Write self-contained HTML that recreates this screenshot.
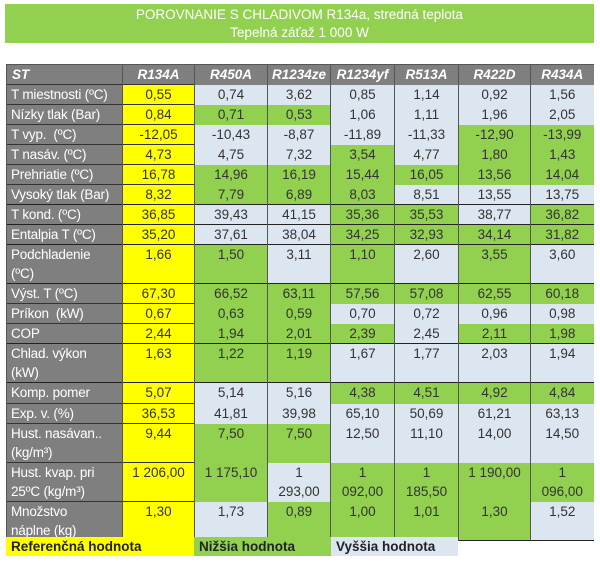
<!DOCTYPE html>
<html><head><meta charset="utf-8"><style>
body{margin:0;width:600px;height:566px;background:#fff;font-family:"Liberation Sans",sans-serif;position:relative;overflow:hidden}
.title{position:absolute;left:5px;top:4px;width:589px;height:39px;background:#92d050;color:#fff;text-align:center;font-size:13.5px;line-height:18px;padding-top:2px;box-sizing:border-box}
table{position:absolute;left:6px;top:64px;border-collapse:collapse;table-layout:fixed;font-size:13.5px;color:#333}
td{padding:0;vertical-align:top;text-align:center;line-height:19px;border-left:1px solid #555;overflow:hidden;white-space:nowrap}
td.h{background:#7f7f7f;color:#fff;text-align:left;padding-left:4px;border-top:1px solid #333;font-size:13.5px;letter-spacing:-0.2px}
td.y{background:#ffff00;border-top:1px solid #333}
td.g{background:#92d050}
td.b{background:#dce6f1}
tr.hd td{background:#7f7f7f;color:#fff;font-weight:bold;font-style:italic;border-top:1px solid #555}
tr.hd td:first-child{text-align:left;padding-left:5px}
tr.L td{border-top:1px solid #222}
.leg{position:absolute;top:537px;height:19px;font-size:13.5px;font-weight:bold;color:#222;line-height:19px;padding-left:5px;box-sizing:border-box}
</style></head><body>
<div class="title">POROVNANIE S CHLADIVOM R134a, stredná teplota<br>Tepelná záťaž 1 000 W</div>
<table>
<colgroup><col style="width:116px"><col style="width:72px"><col style="width:73px"><col style="width:63px"><col style="width:64px"><col style="width:64px"><col style="width:72px"><col style="width:63px"></colgroup>
<tr class="hd" style="height:19px"><td>ST</td><td>R134A</td><td>R450A</td><td>R1234ze</td><td>R1234yf</td><td>R513A</td><td>R422D</td><td>R434A</td></tr>
<tr style="height:20px"><td class="h">T miestnosti (ºC)</td><td class="y">0,55</td><td class="b">0,74</td><td class="b">3,62</td><td class="b">0,85</td><td class="b">1,14</td><td class="b">0,92</td><td class="b">1,56</td></tr>
<tr style="height:20px"><td class="h">Nízky tlak (Bar)</td><td class="y">0,84</td><td class="g">0,71</td><td class="g">0,53</td><td class="b">1,06</td><td class="b">1,11</td><td class="b">1,96</td><td class="b">2,05</td></tr>
<tr style="height:20px"><td class="h">T vyp.&nbsp; (ºC)</td><td class="y">-12,05</td><td class="b">-10,43</td><td class="b">-8,87</td><td class="b">-11,89</td><td class="b">-11,33</td><td class="g">-12,90</td><td class="g">-13,99</td></tr>
<tr style="height:20px"><td class="h">T nasáv. (ºC)</td><td class="y">4,73</td><td class="b">4,75</td><td class="b">7,32</td><td class="g">3,54</td><td class="b">4,77</td><td class="g">1,80</td><td class="g">1,43</td></tr>
<tr style="height:20px"><td class="h">Prehriatie (ºC)</td><td class="y">16,78</td><td class="g">14,96</td><td class="g">16,19</td><td class="g">15,44</td><td class="g">16,05</td><td class="g">13,56</td><td class="g">14,04</td></tr>
<tr style="height:20px"><td class="h">Vysoký tlak (Bar)</td><td class="y">8,32</td><td class="g">7,79</td><td class="g">6,89</td><td class="g">8,03</td><td class="b">8,51</td><td class="b">13,55</td><td class="b">13,75</td></tr>
<tr class="L" style="height:20px"><td class="h">T kond. (ºC)</td><td class="y">36,85</td><td class="b">39,43</td><td class="b">41,15</td><td class="g">35,36</td><td class="g">35,53</td><td class="b">38,77</td><td class="g">36,82</td></tr>
<tr class="L" style="height:20px"><td class="h">Entalpia T (ºC)</td><td class="y">35,20</td><td class="b">37,61</td><td class="b">38,04</td><td class="g">34,25</td><td class="g">32,93</td><td class="g">34,14</td><td class="g">31,82</td></tr>
<tr class="L" style="height:39px"><td class="h">Podchladenie<br>(ºC)</td><td class="y">1,66</td><td class="g">1,50</td><td class="b">3,11</td><td class="g">1,10</td><td class="b">2,60</td><td class="g">3,55</td><td class="b">3,60</td></tr>
<tr class="L" style="height:20px"><td class="h">Výst. T (ºC)</td><td class="y">67,30</td><td class="g">66,52</td><td class="g">63,11</td><td class="g">57,56</td><td class="g">57,08</td><td class="g">62,55</td><td class="g">60,18</td></tr>
<tr style="height:20px"><td class="h">Príkon&nbsp; (kW)</td><td class="y">0,67</td><td class="g">0,63</td><td class="g">0,59</td><td class="b">0,70</td><td class="b">0,72</td><td class="b">0,96</td><td class="b">0,98</td></tr>
<tr style="height:20px"><td class="h">COP</td><td class="y">2,44</td><td class="g">1,94</td><td class="g">2,01</td><td class="g">2,39</td><td class="b">2,45</td><td class="g">2,11</td><td class="g">1,98</td></tr>
<tr class="L" style="height:38px"><td class="h">Chlad. výkon<br>(kW)</td><td class="y">1,63</td><td class="g">1,22</td><td class="g">1,19</td><td class="b">1,67</td><td class="b">1,77</td><td class="b">2,03</td><td class="b">1,94</td></tr>
<tr class="L" style="height:21px"><td class="h">Komp. pomer</td><td class="y">5,07</td><td class="b">5,14</td><td class="b">5,16</td><td class="g">4,38</td><td class="g">4,51</td><td class="g">4,92</td><td class="g">4,84</td></tr>
<tr style="height:19px"><td class="h">Exp. v. (%)</td><td class="y">36,53</td><td class="b">41,81</td><td class="b">39,98</td><td class="b">65,10</td><td class="b">50,69</td><td class="b">61,21</td><td class="b">63,13</td></tr>
<tr style="height:39px"><td class="h">Hust. nasávan..<br>(kg/m³)</td><td class="y">9,44</td><td class="g">7,50</td><td class="g">7,50</td><td class="b">12,50</td><td class="b">11,10</td><td class="b">14,00</td><td class="b">14,50</td></tr>
<tr style="height:39px"><td class="h">Hust. kvap. pri<br>25ºC (kg/m³)</td><td class="y">1 206,00</td><td class="g">1 175,10</td><td class="b">1<br>293,00</td><td class="g">1<br>092,00</td><td class="g">1<br>185,50</td><td class="g">1 190,00</td><td class="g">1<br>096,00</td></tr>
<tr style="height:39px;border-bottom:1px solid #222"><td class="h">Množstvo<br>náplne (kg)</td><td class="y">1,30</td><td class="b">1,73</td><td class="g">0,89</td><td class="g">1,00</td><td class="g">1,01</td><td class="g">1,30</td><td class="b">1,52</td></tr>
</table>
<div class="leg" style="left:6px;width:188px;background:#ffff00">Referenčná hodnota</div>
<div class="leg" style="left:194px;width:137px;background:#92d050">Nižšia hodnota</div>
<div class="leg" style="left:331px;width:127px;background:#dce6f1">Vyššia hodnota</div>
</body></html>
